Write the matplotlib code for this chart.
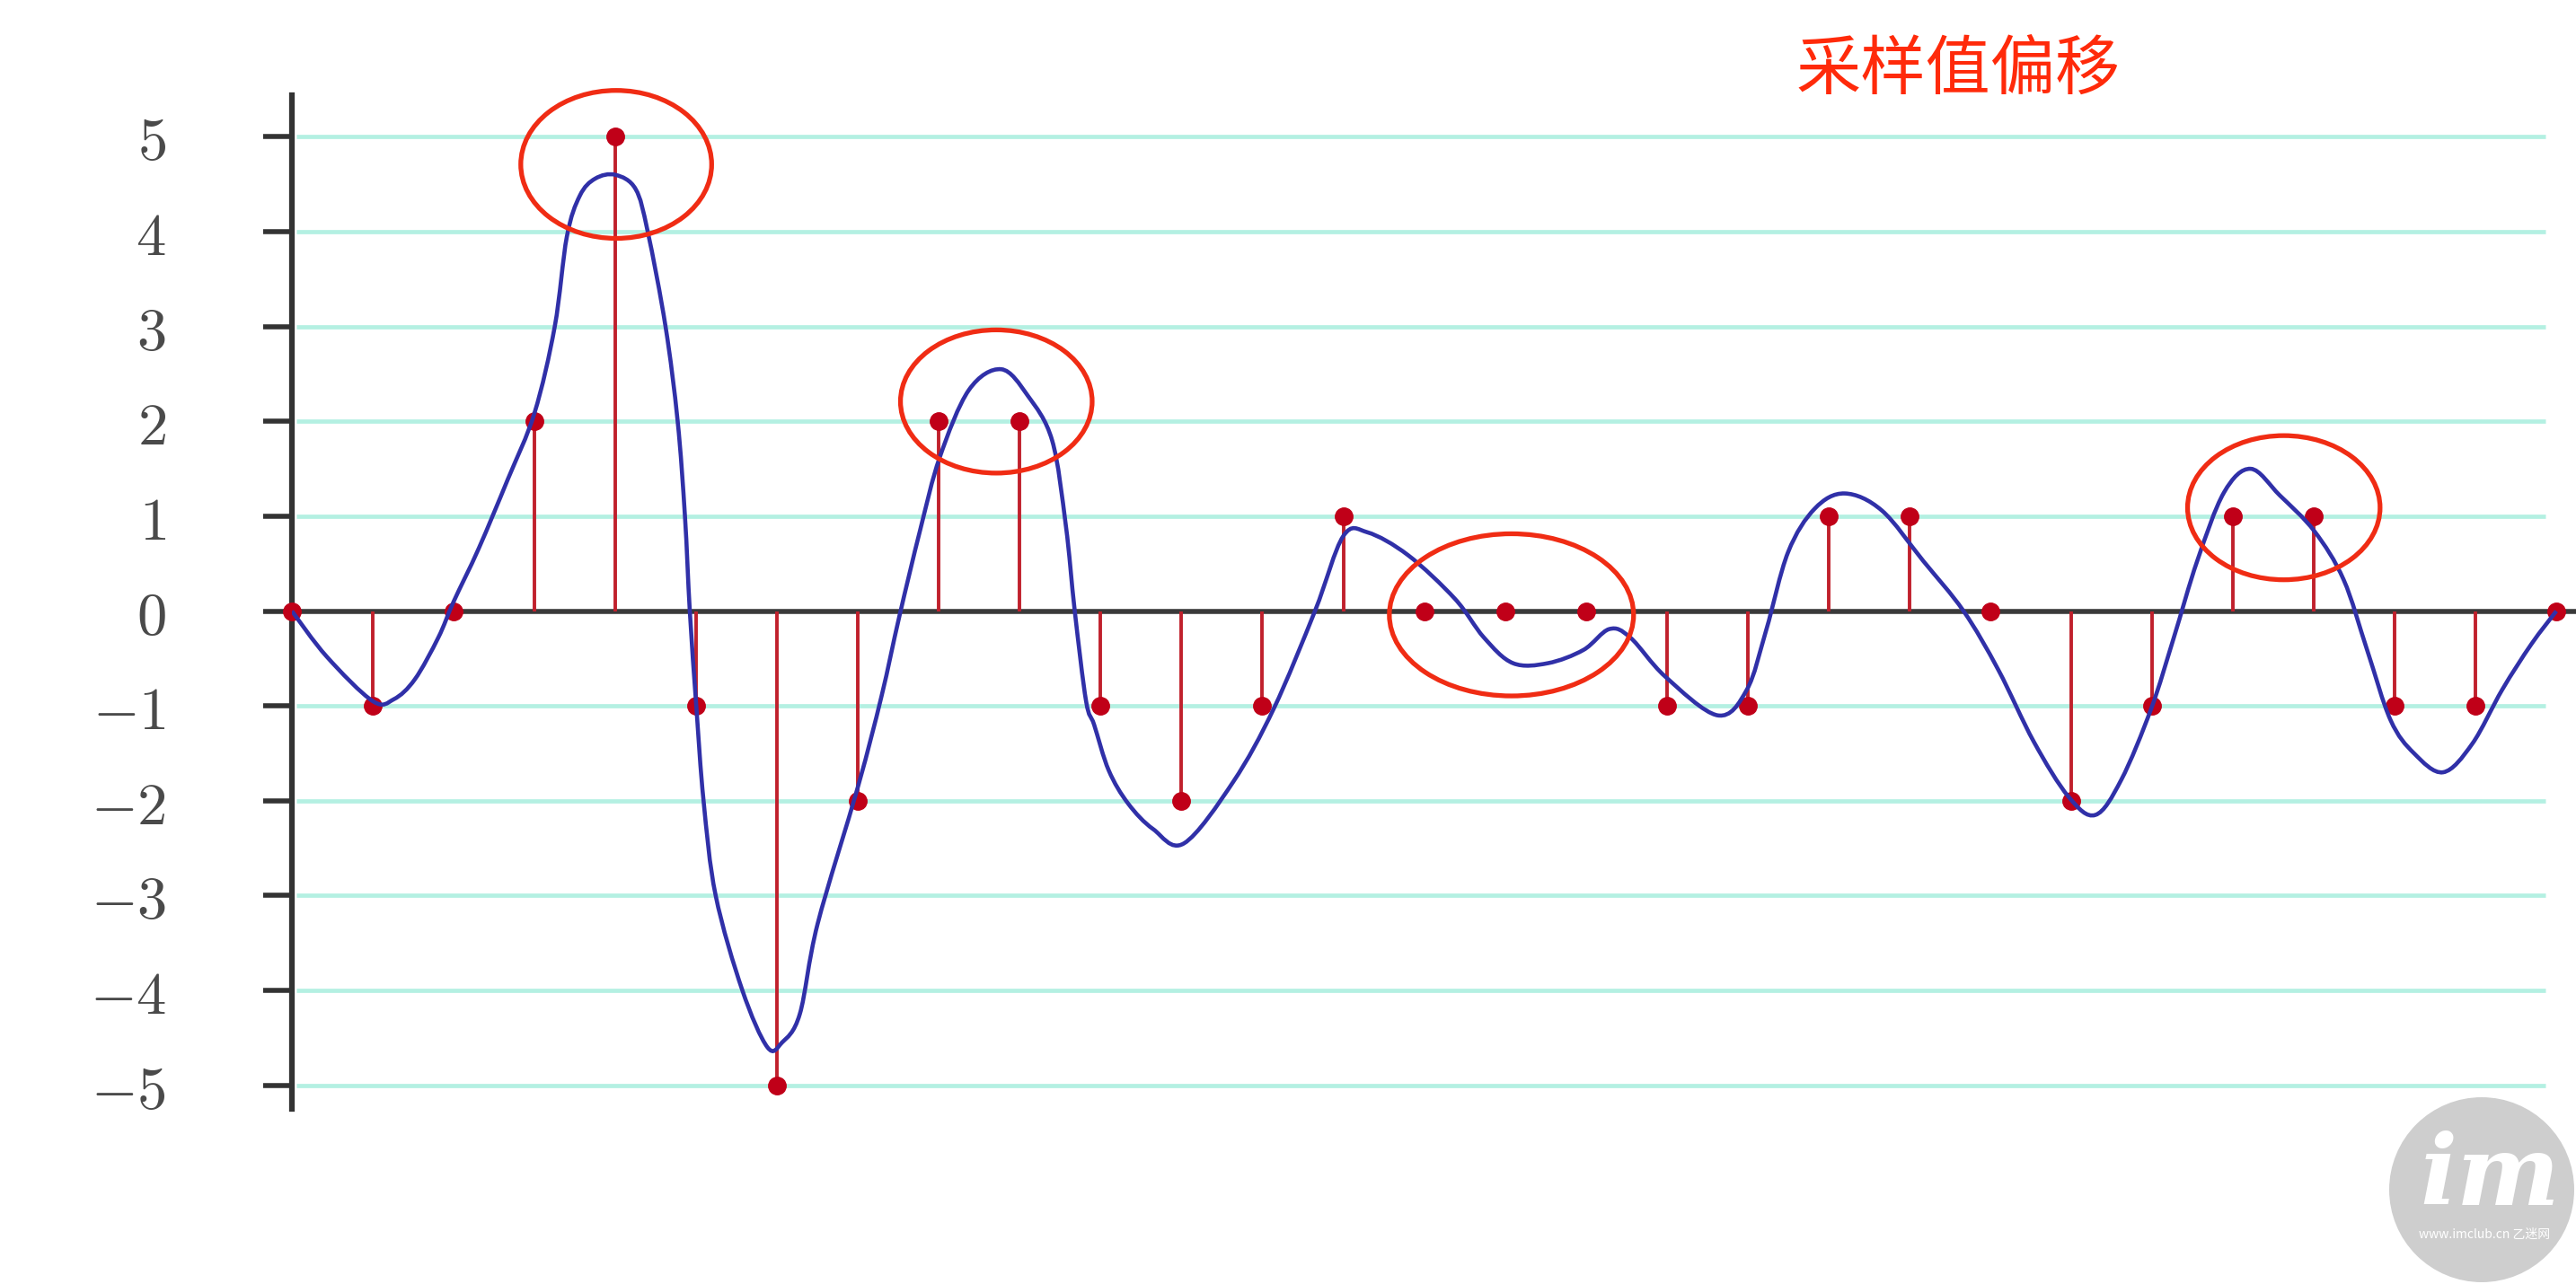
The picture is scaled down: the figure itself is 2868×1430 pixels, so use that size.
import matplotlib
matplotlib.use("Agg")
import matplotlib.pyplot as plt
from matplotlib.patches import Ellipse, Circle, PathPatch
from matplotlib.path import Path

plt.rcParams["mathtext.fontset"] = "cm"

# sampled values (red stems)
sample_x = list(range(29))
sample_y = [0, -1, 0, 2, 5, -1, -5, -2, 2, 2, -1, -2, -1, 1, 0, 0, 0,
            -1, -1, 1, 1, 0, -2, -1, 1, 1, -1, -1, 0]

# blue curve, points
curve_x = [0.0, 0.43, 1.0, 1.26, 1.52, 1.81, 2.0, 2.31, 2.67, 3.0, 3.25, 3.4,
           3.56, 3.75, 4.0, 4.25, 4.4, 4.62, 4.77, 4.86, 4.92, 5.0, 5.09, 5.24,
           5.57, 5.88, 6.06, 6.28, 6.5, 7.0, 7.29, 7.51, 7.77, 8.01, 8.37, 8.77,
           9.1, 9.4, 9.57, 9.68, 9.82, 9.92, 10.1, 10.34, 10.65, 11.03, 11.64, 12.14,
           12.65, 13.0, 13.3, 13.8, 14.38, 14.74, 15.1, 15.53, 15.97, 16.29,
           16.55, 16.98, 17.63, 17.99, 18.23, 18.5, 18.83, 19.2, 19.66, 20.17,
           20.67, 21.1, 21.54, 21.97, 22.3, 22.62, 22.99, 23.27, 23.56, 23.89,
           24.22, 24.58, 25.01, 25.37, 25.66, 25.95, 26.24, 26.6, 26.96, 27.33,
           27.69, 28.0]
curve_y = [0.0, -0.48, -0.95, -0.93, -0.72, -0.28, 0.1, 0.66, 1.39, 2.09, 3.0, 3.95,
           4.38, 4.56, 4.6, 4.45, 4.0, 3.0, 2.0, 1.0, 0.0, -1.0, -2.0, -3.0,
           -4.0, -4.6, -4.55, -4.25, -3.3, -1.85, -0.9, -0.06, 0.86, 1.62, 2.33, 2.55,
           2.27, 1.8, 0.9, 0.0, -0.95, -1.2, -1.68, -2.03, -2.3, -2.45, -1.8, -1.03,
           0.0, 0.79, 0.83, 0.59, 0.13, -0.28, -0.55, -0.55, -0.41, -0.19,
           -0.28, -0.69, -1.1, -0.83, -0.2, 0.62, 1.08, 1.24, 1.06, 0.53,
           0.0, -0.62, -1.38, -1.96, -2.15, -1.78, -1.03, -0.28, 0.53, 1.25,
           1.5, 1.22, 0.84, 0.33, -0.41, -1.15, -1.5, -1.7, -1.4, -0.83,
           -0.35, 0.0]

y_ticks = [-5, -4, -3, -2, -1, 0, 1, 2, 3, 4, 5]

# highlighted spots (centre x, centre y, width, height)
circles = [(4.01, 4.71, 2.36, 1.56),
           (8.71, 2.21, 2.37, 1.51),
           (15.08, -0.04, 3.02, 1.71),
           (24.63, 1.09, 2.38, 1.52)]

fig = plt.figure(figsize=(28.68, 14.30), dpi=100)
ax = fig.add_axes([325 / 2868, 195 / 1430, 2543 / 2868, 1129 / 1430])
ax.set_xlim(0, 2543 / 90.04)
ax.set_ylim(-5.25, 5.44)

# grid lines
for t in y_ticks:
    if t != 0:
        ax.hlines(t, 0.05, 27.87, color="#b4f0e2", lw=3.4, zorder=1)
ax.axhline(0, color="#3a3a3a", lw=4, zorder=2)

# stems
markerline, stemlines, baseline = ax.stem(sample_x, sample_y, basefmt=" ")
stemlines.set_color("#c0202c")
stemlines.set_linewidth(2.8)
stemlines.set_zorder(3)
markerline.set_color("#c00018")
markerline.set_markersize(14)
markerline.set_zorder(3.5)
markerline.set_clip_on(False)

# smooth curve through the read points (Catmull-Rom as cubic Bezier pieces)
pts = list(zip(curve_x, curve_y))
verts = [pts[0]]
codes = [Path.MOVETO]
for i in range(len(pts) - 1):
    p0 = pts[max(i - 1, 0)]
    p1 = pts[i]
    p2 = pts[i + 1]
    p3 = pts[min(i + 2, len(pts) - 1)]
    c1 = (p1[0] + (p2[0] - p0[0]) / 6, p1[1] + (p2[1] - p0[1]) / 6)
    c2 = (p2[0] - (p3[0] - p1[0]) / 6, p2[1] - (p3[1] - p1[1]) / 6)
    verts += [c1, c2, p2]
    codes += [Path.CURVE4] * 3
ax.add_patch(PathPatch(Path(verts, codes), fill=False, edgecolor="#3030a8",
                       lw=3.3, zorder=4))

for cx, cy, w, h in circles:
    ax.add_patch(Ellipse((cx, cy), w, h, fill=False, edgecolor="#f02c14",
                         lw=3.8, zorder=6, clip_on=False))

# axes style
for s in ["top", "right", "bottom"]:
    ax.spines[s].set_visible(False)
ax.spines["left"].set_color("#333333")
ax.spines["left"].set_linewidth(4.5)
ax.set_xticks([])
ax.set_yticks(y_ticks)
ax.set_yticklabels(["$%d$" % t for t in y_ticks])
ax.tick_params(axis="y", direction="out", length=23, width=4, color="#333333",
               pad=78, labelsize=48, labelcolor="#4a4a4a")

fig.text(1999 / 2868, 1 - 78 / 1430, "采样值偏移", color="#ff2a0a", fontsize=52,
         family=["Noto Sans CJK SC", "DejaVu Sans"], ha="left", va="center")

# watermark
fig.add_artist(Circle((27.63, 1.05), 1.03, transform=fig.dpi_scale_trans,
                      facecolor="#cccccc", edgecolor="none", alpha=0.95))
fig.text(2772 / 2868, 1 - 1312 / 1430, "im", color="white", fontsize=78,
         style="italic", weight="bold", family="DejaVu Serif",
         ha="center", va="center")
fig.text(2766 / 2868, 1 - 1375 / 1430, "www.imclub.cn 乙迷网", color="white",
         fontsize=10, family=["Noto Sans CJK SC", "DejaVu Sans"],
         ha="center", va="center")

fig.savefig("out.png", dpi=100, facecolor="white")
